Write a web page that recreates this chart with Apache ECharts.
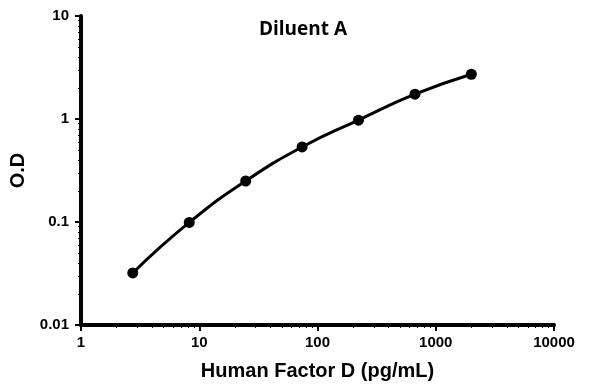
<!DOCTYPE html>
<html><head><meta charset="utf-8">
<script src="https://cdn.jsdelivr.net/npm/echarts@6/dist/echarts.min.js"></script>
<style>html,body{margin:0;padding:0;background:#fff}#c{width:596px;height:384px}</style>
</head><body><div id="c"></div>
<script>
const titleText = "Diluent A";
const xName = "Human Factor D (pg/mL)";
const yName = "O.D";
const concentrations = [2.74, 8.23, 24.7, 74.1, 222, 667, 2000];
const odValues = [0.032, 0.099, 0.25, 0.535, 0.975, 1.74, 2.72];

const chart = echarts.init(document.getElementById('c'));
const font = 'Liberation Sans, Arial, sans-serif';
const axisLineStyle = { show: true, onZero: false, lineStyle: { color: '#000', width: 4, type: 'solid', opacity: 1 } };
chart.setOption({
  animation: false,
  title: { text: titleText, left: 298, top: 15, textAlign: 'center',
    textStyle: { fontFamily: 'Open Sans, sans-serif', fontWeight: 'bold', fontSize: 19, color: '#000' } },
  grid: { left: 81, right: 42, top: 16, bottom: 59, outerBoundsMode: 'none', containLabel: false },
  xAxis: {
    type: 'log', logBase: 10, min: 1, max: 10000,
    name: xName, nameLocation: 'middle', nameGap: 36,
    nameTextStyle: { fontFamily: font, fontWeight: 'bold', fontSize: 20, color: '#000' },
    axisLine: axisLineStyle,
    axisTick: { show: true, length: 6, lineStyle: { color: '#000', width: 2 } },
    minorTick: { show: true, splitNumber: 9, length: 3, lineStyle: { color: '#000', width: 1 } },
    splitLine: { show: false },
    axisLabel: { fontFamily: font, fontWeight: 'bold', fontSize: 15, color: '#000', margin: 10,
      formatter: v => String(v) }
  },
  yAxis: {
    type: 'log', logBase: 10, min: 0.01, max: 10,
    name: yName, nameLocation: 'middle', nameGap: 52, nameRotate: 90,
    nameTextStyle: { fontFamily: font, fontWeight: 'bold', fontSize: 20, color: '#000' },
    axisLine: axisLineStyle,
    axisTick: { show: true, length: 6, lineStyle: { color: '#000', width: 2 } },
    minorTick: { show: true, splitNumber: 9, length: 3, lineStyle: { color: '#000', width: 1 } },
    splitLine: { show: false },
    axisLabel: { fontFamily: font, fontWeight: 'bold', fontSize: 15, color: '#000', margin: 12,
      formatter: v => String(v) }
  },
  series: [{
    type: 'line', smooth: true,
    data: concentrations.map((x, i) => [x, odValues[i]]),
    symbol: 'circle', symbolSize: 11,
    lineStyle: { color: '#000', width: 3 },
    itemStyle: { color: '#000' }
  }]
});
</script></body></html>
